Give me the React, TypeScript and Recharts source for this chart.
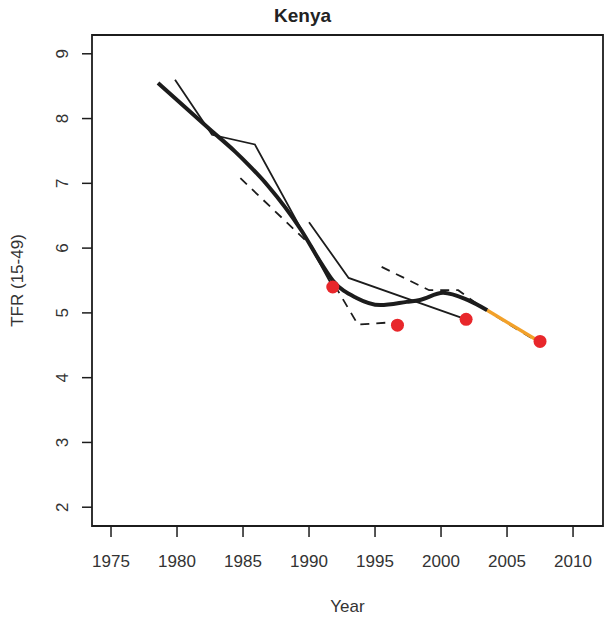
import { ComposedChart, Line, Scatter, XAxis, YAxis, ReferenceArea } from 'recharts';

// Kenya TFR estimates (year, TFR 15-49)
const thinAYears = [1979.85, 1982.65, 1985.9, 1991.8];
const thinAValues = [8.6, 7.75, 7.6, 5.4];

const thinBYears = [1990, 1993, 2001.9];
const thinBValues = [6.4, 5.54, 4.9];

const dashAYears = [1984.8, 1990.2, 1993.7, 1996.7];
const dashAValues = [7.08, 6.03, 4.82, 4.86];

const dashBYears = [1995.5, 1999.1, 2001.3, 2003.2, 2007.1];
const dashBValues = [5.71, 5.35, 5.35, 5.07, 4.58];

const smoothYears = [1978.56, 1982.5, 1984.4, 1985.4, 1986.9, 1989.4, 1991.0, 1991.8, 1993.6, 1995.4, 1997.4, 1998.4, 2000.15, 2002.0, 2003.5];
const smoothValues = [8.55, 7.83, 7.49, 7.29, 6.96, 6.28, 5.74, 5.5, 5.23, 5.12, 5.17, 5.2, 5.31, 5.2, 5.04];

const projYears = [2003.5, 2007.5];
const projValues = [5.04, 4.55];

const dotYears = [1991.8, 1996.7, 2001.9, 2007.5];
const dotValues = [5.4, 4.81, 4.9, 4.56];

const xTicks = [1975, 1980, 1985, 1990, 1995, 2000, 2005, 2010];
const yTicks = [2, 3, 4, 5, 6, 7, 8, 9];

const X_MIN = 1973.56;
const X_MAX = 2012.27;
const Y_MIN = 1.71;
const Y_MAX = 9.29;

const toPoints = (xs: number[], ys: number[]) => xs.map((x, i) => ({ x, y: ys[i] }));

const FONT = '"Liberation Sans", Arial, sans-serif';
const INK = '#1c1c1c';

const YTick = (props: any) => {
  const { x, y, payload } = props;
  return (
    <text
      x={x}
      y={y}
      transform={`rotate(-90, ${x}, ${y})`}
      textAnchor="middle"
      fontSize={17}
      fontFamily={FONT}
      fill="#333"
    >
      {payload.value}
    </text>
  );
};

export default function App() {
  return (
    <div style={{ position: 'absolute', left: 0, top: 0, width: 605, height: 618, background: '#fff', fontFamily: FONT }}>
      <div style={{ position: 'absolute', left: 0, width: 605, top: 5, textAlign: 'center', fontWeight: 'bold', fontSize: 19, color: '#222' }}>
        Kenya
      </div>
      <ComposedChart width={605} height={618} margin={{ top: 35, right: 2, bottom: 0, left: 0 }}>
        <XAxis
          type="number"
          dataKey="x"
          domain={[X_MIN, X_MAX]}
          ticks={xTicks}
          allowDataOverflow
          height={92}
          tickSize={11}
          tickMargin={18}
          axisLine={false}
          tickLine={{ stroke: INK, strokeWidth: 1.5 }}
          tick={{ fontSize: 17, fontFamily: FONT, fill: '#333' }}
          label={{
            content: (p: any) => {
              const vb = p.viewBox;
              return (
                <text x={vb.x + vb.width / 2} y={vb.y + 86} textAnchor="middle" fontSize={17} fontFamily={FONT} fill="#333">
                  Year
                </text>
              );
            },
          }}
        />
        <YAxis
          type="number"
          dataKey="y"
          domain={[Y_MIN, Y_MAX]}
          ticks={yTicks}
          allowDataOverflow
          width={92}
          tickSize={10}
          tickMargin={14}
          axisLine={false}
          tickLine={{ stroke: INK, strokeWidth: 1.5 }}
          tick={<YTick />}
          label={{
            content: (p: any) => {
              const vb = p.viewBox;
              const cx = vb.x + 23;
              const cy = vb.y + vb.height / 2;
              return (
                <text x={cx} y={cy} transform={`rotate(-90, ${cx}, ${cy})`} textAnchor="middle" fontSize={17} fontFamily={FONT} fill="#333">
                  TFR (15-49)
                </text>
              );
            },
          }}
        />
        <ReferenceArea x1={X_MIN} x2={X_MAX} y1={Y_MIN} y2={Y_MAX} fill="none" stroke={INK} strokeWidth={1.8} ifOverflow="visible" />
        <Line data={toPoints(thinAYears, thinAValues)} dataKey="y" type="linear" stroke={INK} strokeWidth={1.8} dot={false} isAnimationActive={false} />
        <Line data={toPoints(thinBYears, thinBValues)} dataKey="y" type="linear" stroke={INK} strokeWidth={1.8} dot={false} isAnimationActive={false} />
        <Line data={toPoints(dashAYears, dashAValues)} dataKey="y" type="linear" stroke={INK} strokeWidth={1.8} strokeDasharray="9 7" dot={false} isAnimationActive={false} />
        <Line data={toPoints(dashBYears, dashBValues)} dataKey="y" type="linear" stroke={INK} strokeWidth={1.8} strokeDasharray="9 7" dot={false} isAnimationActive={false} />
        <Line data={toPoints(smoothYears, smoothValues)} dataKey="y" type="monotone" stroke={INK} strokeWidth={4} dot={false} isAnimationActive={false} />
        <Line data={toPoints(projYears, projValues)} dataKey="y" type="linear" stroke="#f2a12a" strokeWidth={3.5} dot={false} isAnimationActive={false} />
        <Scatter
          data={toPoints(dotYears, dotValues)}
          dataKey="y"
          isAnimationActive={false}
          shape={(p: any) => <circle cx={p.cx} cy={p.cy} r={6.5} fill="#e8272b" />}
        />
      </ComposedChart>
    </div>
  );
}
